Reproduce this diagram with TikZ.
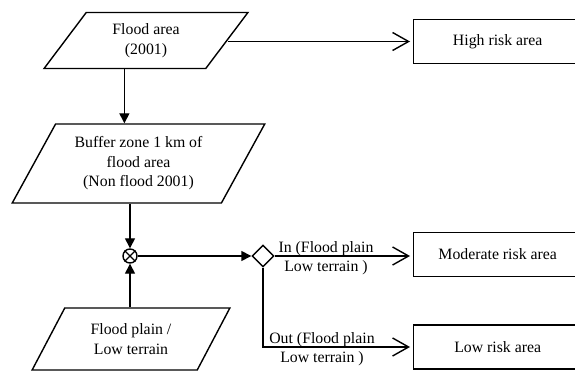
\documentclass[tikz,border=0pt]{standalone}
\usepackage{fontspec}
\setmainfont{Liberation Serif}
\usetikzlibrary{shapes.geometric,arrows.meta}
\tikzset{
  inbox/.style={trapezium, trapezium stretches=true, draw, line width=1.4pt, align=center, inner sep=0pt},
  riskbox/.style={rectangle, draw, line width=1.4pt, minimum width=168pt, minimum height=44pt, inner sep=0pt, anchor=west},
  fline/.style={line width=1.4pt, -{Triangle[length=10pt,width=10pt]}},
  oline/.style={line width=1.4pt, -{Straight Barb[length=16pt,width=18pt]}, shorten >=3pt},
  lbl/.style={align=center, inner sep=0pt}
}
\begin{document}
\begin{tikzpicture}[x=1pt,y=-1pt,font=\fontsize{15.8}{19.5}\selectfont]
\useasboundingbox (0,0) rectangle (575,371);
\node [inbox, trapezium left angle=55, trapezium right angle=125, minimum width=204pt, minimum height=56pt] (flood) at (146,40.5) {Flood area\\(2001)};
\node [inbox, trapezium left angle=58, trapezium right angle=122, minimum width=253pt, minimum height=79pt] (buffer) at (138.5,163.5) {Buffer zone 1 km of\\flood area\\(Non flood 2001)};
\node [inbox, trapezium left angle=57, trapezium right angle=123, minimum width=198pt, minimum height=62pt] (plain) at (131,339) {Flood plain /\\Low terrain};
\node [circle, draw, line width=1.4pt, minimum size=14pt, inner sep=0pt] (mix) at (130,256) {};
\node [diamond, draw, line width=1.4pt, minimum size=22pt, inner sep=0pt] (split) at (263,256) {};
\node [riskbox] (high) at (413,41.5) {High risk area};
\node [riskbox] (moderate) at (413,254.5) {Moderate risk area};
\node [riskbox] (low) at (413,347) {Low risk area};
\node [lbl] (inlbl) at (326,258) {In (Flood plain\\Low terrain )};
\node [lbl] (outlbl) at (322,349) {Out (Flood plain\\Low terrain )};
\draw [line width=1.4pt] (mix.north west) -- (mix.south east) (mix.north east) -- (mix.south west);
\draw [oline] (flood.right side |- high.west) -- (high.west);
\draw [fline] (flood.bottom side) -- (flood.bottom side |- buffer.top side);
\draw [fline] (mix |- buffer.bottom side) -- (mix.north);
\draw [fline] (mix |- plain.top side) -- (mix.south);
\draw [fline] (mix.east) -- (split.west);
\draw [oline] (split.east) -- (split.east -| moderate.west);
\draw [oline] (split.south) |- (low.west);
\end{tikzpicture}
\end{document}
